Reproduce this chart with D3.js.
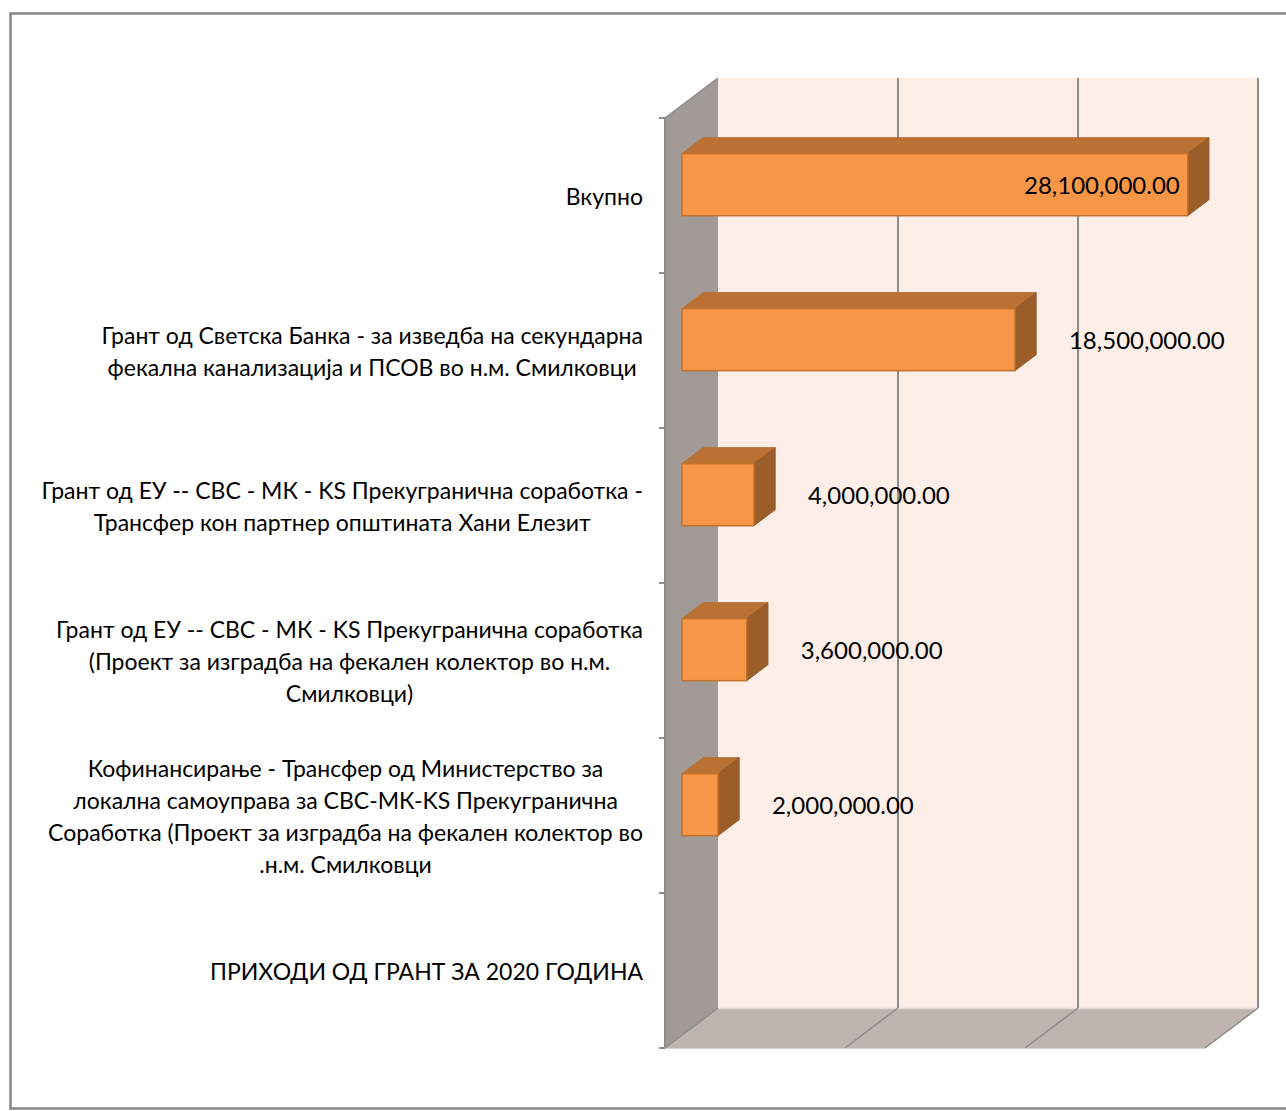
<!DOCTYPE html>
<html>
<head>
<meta charset="utf-8">
<script src="https://cdn.jsdelivr.net/npm/d3@7"></script>
<style>
  body { margin: 0; background: #fff; }
  svg text { font-family: Lato, "Liberation Sans", sans-serif; }
</style>
</head>
<body>
<svg id="chart" width="1286" height="1111"></svg>
<script>
// category labels, already split into lines as in the original
const categories = [
  ["Вкупно"],
  ["Грант од Светска Банка - за изведба на секундарна", "фекална канализација и ПСОВ во н.м. Смилковци"],
  ["Грант од ЕУ -- СВС - МК - KS Прекугранична соработка -", "Трансфер кон партнер општината Хани Елезит"],
  ["Грант од ЕУ -- СВС - МК - KS Прекугранична соработка", "(Проект за изградба на фекален колектор во н.м.", "Смилковци)"],
  ["Кофинансирање - Трансфер од Министерство за", "локална самоуправа за СВС-МК-KS Прекугранична", "Соработка (Проект за изградба на фекален колектор во", ".н.м. Смилковци"],
  ["ПРИХОДИ ОД ГРАНТ ЗА 2020 ГОДИНА"]
];
const values = [28100000, 18500000, 4000000, 3600000, 2000000, null];
const xTicks = [0, 10000000, 20000000, 30000000];

// plot geometry (front plane) and 3d depth vector
const x0 = 665, yTop = 118, yBot = 1048;
const depth = { dx: 53, dy: -40 };
const barD0 = 0.32, barD1 = 0.72; // bar placed inside the depth

const svg = d3.select("#chart");

// outer frame
svg.append("rect")
  .attr("x", 10.5).attr("y", 13.5)
  .attr("width", 1300).attr("height", 1095)
  .attr("fill", "none").attr("stroke", "#868686").attr("stroke-width", 2.5);

const x = d3.scaleLinear().domain([0, 30000000]).range([0, 540]);
const y = d3.scaleBand().domain(d3.range(categories.length)).range([yTop, yBot]);

const xR = x0 + x(30000000);

// side wall
svg.append("polygon")
  .attr("points", [[x0, yTop], [x0 + depth.dx, yTop + depth.dy], [x0 + depth.dx, yBot + depth.dy], [x0, yBot]].join(" "))
  .attr("fill", "#a29a97");

// back wall
svg.append("rect")
  .attr("x", x0 + depth.dx).attr("y", yTop + depth.dy)
  .attr("width", x(30000000)).attr("height", yBot - yTop)
  .attr("fill", "#fdeee7");

// floor
svg.append("polygon")
  .attr("points", [[x0, yBot], [xR, yBot], [xR + depth.dx, yBot + depth.dy], [x0 + depth.dx, yBot + depth.dy]].join(" "))
  .attr("fill", "#c0b4b0");
svg.append("line")
  .attr("x1", x0 + depth.dx).attr("x2", xR + depth.dx)
  .attr("y1", yBot + depth.dy + 0.5).attr("y2", yBot + depth.dy + 0.5)
  .attr("stroke", "#e6dcd7").attr("stroke-width", 1.5);
svg.append("line")
  .attr("x1", x0).attr("x2", xR)
  .attr("y1", yBot + 0.5).attr("y2", yBot + 0.5)
  .attr("stroke", "#ddd2cd").attr("stroke-width", 1);

// gridlines on back wall and floor
xTicks.forEach((t) => {
  const gx = x0 + x(t);
  if (t > 0) {
    svg.append("line")
      .attr("x1", gx + depth.dx).attr("x2", gx + depth.dx)
      .attr("y1", yTop + depth.dy).attr("y2", yBot + depth.dy)
      .attr("stroke", "#8c8c8c").attr("stroke-width", 2);
  }
  svg.append("line")
    .attr("x1", gx).attr("y1", yBot)
    .attr("x2", gx + depth.dx).attr("y2", yBot + depth.dy)
    .attr("stroke", "#8c8c8c").attr("stroke-width", 1.5);
});

// side wall front edge (category axis) and its ticks
svg.append("line")
  .attr("x1", x0).attr("x2", x0).attr("y1", yTop).attr("y2", yBot)
  .attr("stroke", "#8c8c8c").attr("stroke-width", 2);
svg.append("line")
  .attr("x1", x0).attr("y1", yTop)
  .attr("x2", x0 + depth.dx).attr("y2", yTop + depth.dy)
  .attr("stroke", "#8c8c8c").attr("stroke-width", 1.5);
d3.range(categories.length + 1).forEach((i) => {
  const ty = yTop + i * y.step();
  svg.append("line")
    .attr("x1", x0 - 6).attr("x2", x0).attr("y1", ty).attr("y2", ty)
    .attr("stroke", "#8c8c8c").attr("stroke-width", 2);
});

// bars (3d boxes)
const barH = y.step() * 0.4;
const bars = svg.append("g");
values.forEach((v, i) => {
  if (v == null) return;
  const bx = x0 + depth.dx * barD0;
  const by = y(i) + y.bandwidth() / 2 + depth.dy * barD0 - barH / 2 + 2;
  const bw = x(v);
  const ddx = depth.dx * (barD1 - barD0), ddy = depth.dy * (barD1 - barD0);
  // top face
  bars.append("polygon")
    .attr("points", [[bx, by], [bx + ddx, by + ddy], [bx + bw + ddx, by + ddy], [bx + bw, by]].join(" "))
    .attr("fill", "#ba7133").attr("stroke", "#b46c2f").attr("stroke-width", 1);
  // side face
  bars.append("polygon")
    .attr("points", [[bx + bw, by], [bx + bw + ddx, by + ddy], [bx + bw + ddx, by + barH + ddy], [bx + bw, by + barH]].join(" "))
    .attr("fill", "#9b5e2b").attr("stroke", "#945a29").attr("stroke-width", 1);
  // front face
  bars.append("rect")
    .attr("x", bx).attr("y", by).attr("width", bw).attr("height", barH)
    .attr("fill", "#f79646").attr("stroke", "#c4732f").attr("stroke-width", 1.5);

  // value label
  const fmt = d3.format(",.2f");
  const lbl = svg.append("text")
    .attr("y", by + barH / 2)
    .attr("dominant-baseline", "central")
    .style("font-size", "24px")
    .attr("fill", "#000")
    .text(fmt(v));
  const lw = lbl.node().getComputedTextLength();
  if (bx + bw + 54 + lw > xR + depth.dx) {
    lbl.attr("x", bx + bw - 8).attr("text-anchor", "end");
  } else {
    lbl.attr("x", bx + bw + 54).attr("text-anchor", "start");
  }
});

// category labels: block right-aligned to the axis, lines centred in the block
const labelRight = 643, lineH = 32;
categories.forEach((lines, i) => {
  const g = svg.append("g");
  const texts = lines.map((s) => g.append("text")
    .style("font-size", "23px")
    .attr("fill", "#000")
    .attr("text-anchor", "middle")
    .attr("dominant-baseline", "central")
    .text(s));
  const maxW = d3.max(texts, (t) => t.node().getComputedTextLength());
  const cx = labelRight - maxW / 2;
  const cy = y(i) + y.bandwidth() / 2;
  texts.forEach((t, k) => {
    t.attr("x", cx).attr("y", cy + (k - (lines.length - 1) / 2) * lineH);
  });
});
</script>
</body>
</html>
